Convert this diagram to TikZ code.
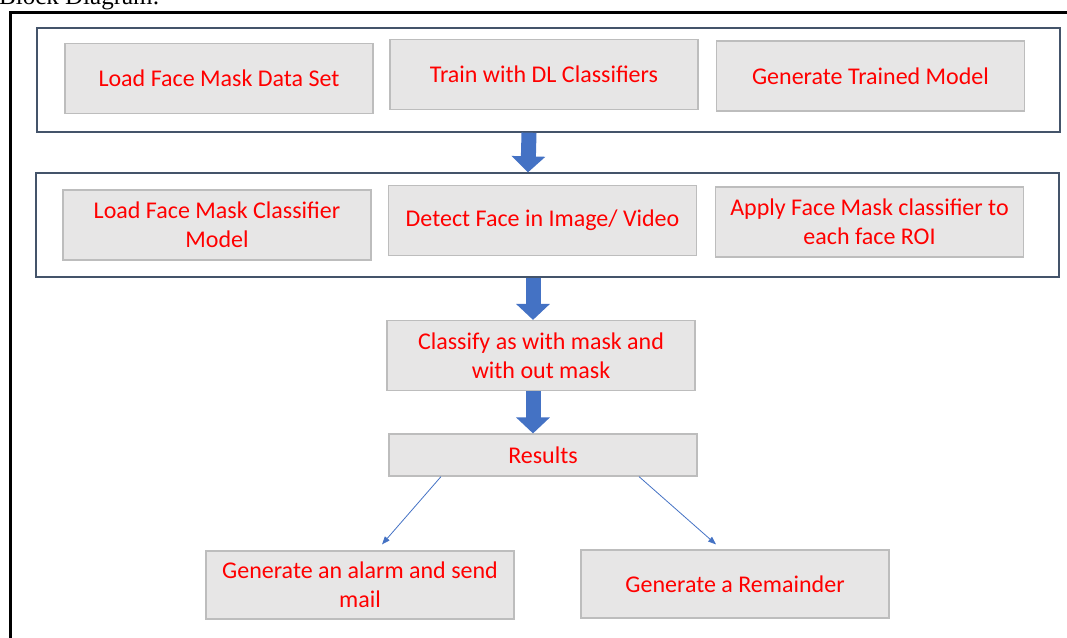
\documentclass[tikz,border=0pt]{standalone}
\usepackage{fontspec}
\setmainfont{Carlito}
\newfontfamily\timesfont{Liberation Serif}
\usetikzlibrary{arrows.meta,calc}
\definecolor{boxfill}{HTML}{E7E6E6}
\definecolor{boxline}{HTML}{BDBDBD}
\definecolor{grpline}{HTML}{44546A}
\definecolor{arrblue}{HTML}{4472C4}
\definecolor{txtred}{HTML}{FF0000}
\begin{document}
\begin{tikzpicture}[x=1pt,y=-1pt,
  stepbox/.style={draw=boxline,line width=1.2pt,fill=boxfill,text=txtred,
    minimum width=308pt,minimum height=70pt,inner sep=0pt,align=center,
    font=\fontsize{24}{29}\selectfont},
  groupbox/.style={draw=grpline,line width=1.3pt,fill=white,inner sep=0pt,
    minimum width=1023pt,minimum height=104pt},
  blockarrow/.style={draw=arrblue,line width=15pt,
    -{Triangle[width=33pt,length=16pt,fill=arrblue]}},
  thinarrow/.style={draw=arrblue,line width=0.8pt,
    -{Triangle[width=6pt,length=8pt]}}]
\useasboundingbox (0,0) rectangle (1067,637);
\clip (0,0) rectangle (1067,637);
% heading (cut off by the page top, as in the reference)
\node[anchor=base west,inner sep=0pt,font=\timesfont\fontsize{25}{30}\selectfont] (title) at (-1,5) {Block Diagram:};
% outer frame
\draw[line width=3pt] (10.5,660) -- (10.5,12.5) -- (1090,12.5);
% groups
\node[groupbox] (g1) at (548.5,80) {};
\node[groupbox] (g2) at (547.5,225) {};
% step boxes
\node[stepbox] (a1) at (219,78.5) {Load Face Mask Data Set};
\node[stepbox] (a2) at (544,74.5) {Train with DL Classifiers};
\node[stepbox] (a3) at (870.5,76) {Generate Trained Model};
\node[stepbox] (b1) at (217,225) {Load Face Mask Classifier\\Model};
\node[stepbox] (b2) at (542.5,220.5) {Detect Face in Image/ Video};
\node[stepbox] (b3) at (869.5,222) {Apply Face Mask classifier to\\each face ROI};
\node[stepbox] (c) at (541,355.5) {Classify as with mask and\\with out mask};
\node[stepbox,minimum height=42pt] (d) at (543,455) {Results};
\node[stepbox,minimum height=68pt] (e1) at (360,585) {Generate an alarm and send\\mail};
\node[stepbox,minimum height=68pt] (e2) at (735,584) {Generate a Remainder};
% block arrows
\draw[blockarrow] ([xshift=-19.5pt]g1.south) -- ([xshift=-19.5pt]g2.north);
\draw[blockarrow] ([xshift=-14.5pt]g2.south) -- ([xshift=-8pt]c.north);
\draw[blockarrow] ([xshift=-8pt]c.south) -- ([xshift=-10pt]d.north);
% thin arrows
\draw[thinarrow] ([xshift=-102pt]d.south) -- ([xshift=22pt,yshift=6pt]e1.north);
\draw[thinarrow] ([xshift=96pt]d.south) -- ([xshift=-19pt,yshift=5pt]e2.north);
\end{tikzpicture}
\end{document}
